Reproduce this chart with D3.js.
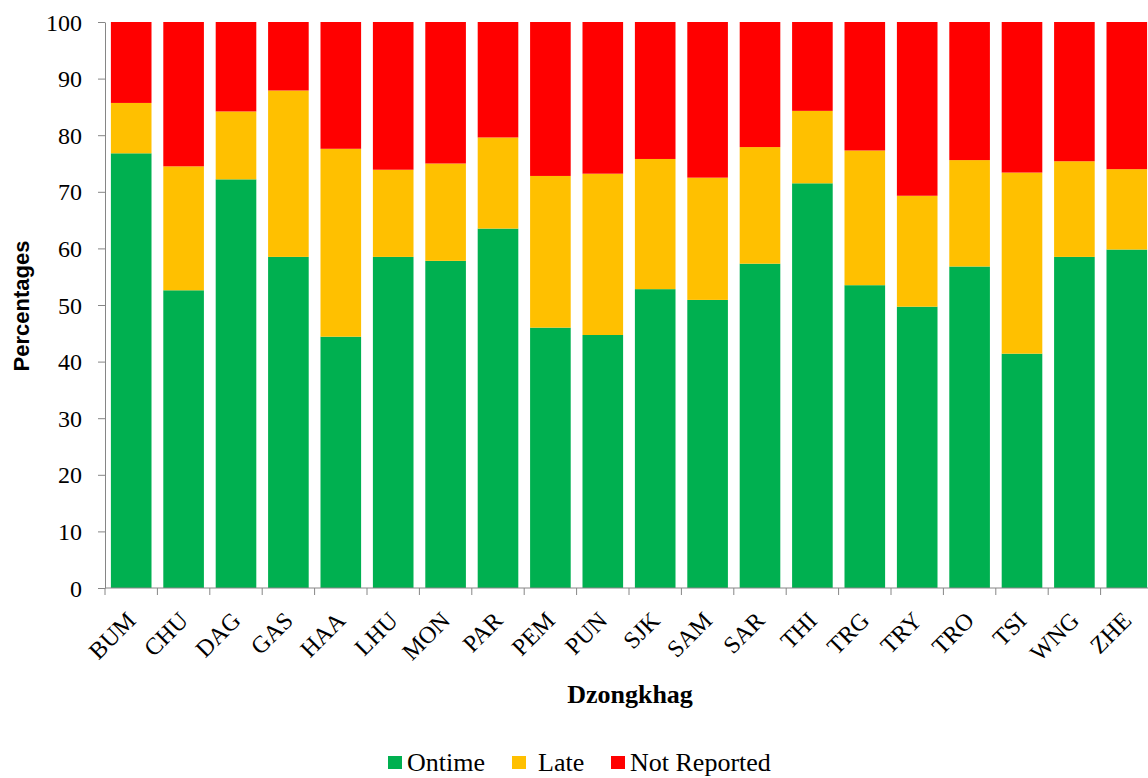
<!DOCTYPE html>
<html lang="en">
<head>
  <meta charset="UTF-8">
  <title>Reporting by Dzongkhag</title>
  <script src="https://d3js.org/d3.v7.min.js"></script>
  <style>
    body { background: #fff; margin: 0; }
    svg { display: block; }
    .serif { font-family: "Liberation Serif", "Times New Roman", "DejaVu Serif", serif; fill: #000; }
  </style>
</head>
<body>
  <svg width="1148" height="778"></svg>

  <script>
    const dzongkhags = ["BUM","CHU","DAG","GAS","HAA","LHU","MON","PAR","PEM","PUN",
                        "SJK","SAM","SAR","THI","TRG","TRY","TRO","TSI","WNG","ZHE"];
    const ontime = [76.8,52.6,72.2,58.5,44.4,58.5,57.8,63.5,46.0,44.7,
                    52.8,50.9,57.3,71.5,53.5,49.7,56.8,41.4,58.5,59.8];
    const late =   [8.9,21.9,12.0,29.4,33.2,15.4,17.2,16.1,26.8,28.5,
                    23.0,21.6,20.6,12.8,23.8,19.6,18.8,32.0,16.9,14.2];
    const notReported = [14.3,25.5,15.8,12.1,22.4,26.1,25.0,20.4,27.2,26.8,
                         24.2,27.5,22.1,15.7,22.7,30.7,24.4,26.6,24.6,26.0];
    const seriesNames = ["Ontime", "Late", "Not Reported"];
    const seriesColors = ["#00B050", "#FFC000", "#FF0000"];
    const yTicks = [0,10,20,30,40,50,60,70,80,90,100];

    const svg = d3.select("svg");
    const plotLeft = 105, plotRight = 1153, plotTop = 22, plotBottom = 588;

    const rows = dzongkhags.map((d, i) => ({
      name: d, Ontime: ontime[i], Late: late[i], "Not Reported": notReported[i]
    }));
    const stacked = d3.stack().keys(seriesNames)(rows);

    const x = d3.scaleBand().domain(dzongkhags).range([plotLeft, plotRight])
      .paddingInner(0.225).paddingOuter(0.1125);
    const y = d3.scaleLinear().domain([0, 100]).range([plotBottom, plotTop]);
    const color = d3.scaleOrdinal().domain(seriesNames).range(seriesColors);

    // bars
    svg.append("g").selectAll("g")
      .data(stacked)
      .join("g")
      .attr("fill", d => color(d.key))
      .selectAll("rect")
      .data(d => d)
      .join("rect")
      .attr("x", d => x(d.data.name))
      .attr("width", x.bandwidth())
      .attr("y", d => y(d[1]))
      .attr("height", d => y(d[0]) - y(d[1]));

    // y axis
    const yAxis = svg.append("g")
      .attr("transform", `translate(${plotLeft},0)`)
      .call(d3.axisLeft(y).tickValues(yTicks).tickSize(7).tickSizeOuter(0).tickPadding(16));
    yAxis.attr("font-family", null).attr("font-size", null);
    yAxis.selectAll("text").attr("class", "serif").attr("font-size", 24).attr("dy", "0.34em");
    yAxis.selectAll("line, path").attr("stroke", "#868686");

    // x axis (ticks between categories, Excel style)
    const step = x.step();
    const xAxis = svg.append("g").attr("transform", `translate(0,${plotBottom})`);
    xAxis.append("line")
      .attr("x1", plotLeft).attr("x2", plotRight)
      .attr("stroke", "#868686");
    xAxis.selectAll(".xt")
      .data(d3.range(dzongkhags.length + 1))
      .join("line")
      .attr("x1", i => plotLeft + i * step)
      .attr("x2", i => plotLeft + i * step)
      .attr("y2", 7)
      .attr("stroke", "#868686");
    xAxis.selectAll(".xl")
      .data(dzongkhags)
      .join("text")
      .attr("class", "serif")
      .attr("font-size", 24)
      .attr("text-anchor", "end")
      .attr("transform", d => `translate(${x(d) + x.bandwidth() / 2 + 6},${34}) rotate(-45)`)
      .text(d => d);

    // axis titles
    svg.append("text")
      .attr("transform", "translate(29,306) rotate(-90)")
      .attr("text-anchor", "middle")
      .attr("font-family", "Liberation Sans, sans-serif")
      .attr("font-weight", "bold")
      .attr("font-size", 22)
      .text("Percentages");

    svg.append("text")
      .attr("class", "serif")
      .attr("x", 630).attr("y", 703)
      .attr("text-anchor", "middle")
      .attr("font-weight", "bold")
      .attr("font-size", 26)
      .text("Dzongkhag");

    // legend
    const legendX = [388, 512, 611];
    const legend = svg.append("g").selectAll("g")
      .data(seriesNames)
      .join("g")
      .attr("transform", (d, i) => `translate(${legendX[i]},756)`);
    legend.append("rect")
      .attr("width", 14).attr("height", 13)
      .attr("fill", d => color(d));
    legend.append("text")
      .attr("class", "serif")
      .attr("x", (d, i) => i === 1 ? 26 : 19).attr("y", 15)
      .attr("font-size", 26)
      .text(d => d);
  </script>
</body>
</html>
